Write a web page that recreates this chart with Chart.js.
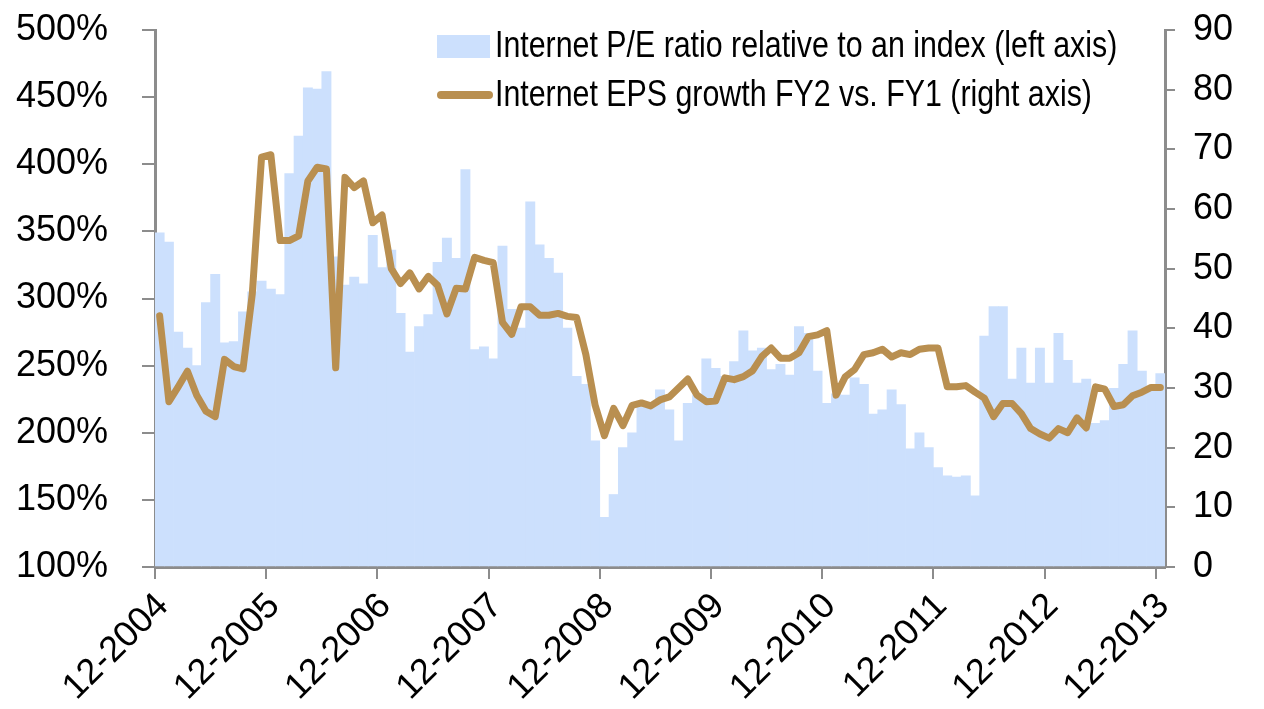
<!DOCTYPE html>
<html lang="en">
<head>
<meta charset="UTF-8">
<title>Internet P/E vs EPS growth</title>
<script src="https://cdn.jsdelivr.net/npm/chart.js@4.4.1/dist/chart.umd.min.js"></script>
<style>
  body { margin: 0; background: #fff; }
  #wrap { width: 1264px; height: 709px; }
</style>
</head>
<body>
<div id="wrap"><canvas id="chart" width="1264" height="709"></canvas></div>
<script>
// year labels on the x axis, one every 12 months starting Dec 2004
const tickLabels = ['12-2004', '12-2005', '12-2006', '12-2007', '12-2008',
                    '12-2009', '12-2010', '12-2011', '12-2012', '12-2013'];

// monthly values, Dec 2004 .. Dec 2013 (109 months)
const peRatio = [
  349, 342, 275, 263, 250, 297, 318, 267, 268, 290, 305, 313,
  307, 303, 393, 421, 457, 456, 469, 331, 310, 316, 311, 347,
  323, 336, 289, 260, 279, 288, 327, 345, 330, 396, 262, 264,
  255, 339, 292, 278, 372, 340, 330, 319, 278, 242, 236, 194,
  137, 154, 189, 200, 220, 221, 232, 217, 194, 222, 228, 255,
  248, 242, 253, 276, 261, 263, 247, 251, 243, 279, 274, 246,
  222, 229, 228, 241, 236, 214, 217, 232, 221, 188, 200, 189,
  174, 168, 167, 168, 153, 272, 294, 294, 240, 263, 237, 263,
  237, 274, 254, 237, 240, 207, 209, 233, 251, 276, 246, 232,
  244
];
const epsGrowth = [
  42.1, 27.7, 30.2, 32.8, 28.8, 26.1, 25.2, 34.8, 33.6, 33.2, 45.8, 68.7,
  69.1, 54.7, 54.7, 55.5, 64.7, 67.0, 66.7, 33.4, 65.3, 63.6, 64.7, 57.7,
  59.0, 50.0, 47.5, 49.3, 46.6, 48.7, 47.2, 42.4, 46.7, 46.6, 51.9, 51.4,
  51.0, 41.0, 39.0, 43.6, 43.6, 42.2, 42.2, 42.5, 42.0, 41.8, 35.6, 27.1,
  22.0, 26.6, 23.7, 27.1, 27.5, 27.0, 28.0, 28.5, 30.0, 31.5, 28.8, 27.7,
  27.8, 31.7, 31.4, 31.9, 32.9, 35.3, 36.7, 35.0, 35.0, 35.9, 38.6, 38.9,
  39.6, 28.8, 31.9, 33.1, 35.6, 35.9, 36.5, 35.2, 35.9, 35.6, 36.5, 36.7,
  36.7, 30.2, 30.2, 30.4, 29.3, 28.3, 25.2, 27.4, 27.4, 25.7, 23.2, 22.3,
  21.6, 23.2, 22.5, 25.0, 23.3, 30.2, 29.8, 26.9, 27.2, 28.7, 29.3, 30.1,
  30.1
];

const BAR_COLOR = '#cce0fd';
const LINE_COLOR = '#b98f50';
const AXIS_COLOR = '#8c8c8c';
const TICK_FONT = { family: "'Liberation Sans', Arial, sans-serif", size: 36 };

Chart.defaults.font.family = "'Liberation Sans', Arial, sans-serif";
Chart.defaults.color = '#000';

// legend drawn inside the plot, top right, two rows, narrow type
const insideLegend = {
  id: 'insideLegend',
  afterDraw(chart) {
    const ctx = chart.ctx;
    const bars = chart.data.datasets.find(d => d.type === 'bar');
    const line = chart.data.datasets.find(d => d.type === 'line');
    ctx.save();
    // use the narrow face if it is there, otherwise squeeze the regular one
    ctx.font = "37px 'Liberation Sans'";
    const wide = ctx.measureText(bars.label).width;
    ctx.font = "37px 'Liberation Sans Narrow', 'Liberation Sans'";
    const narrow = ctx.measureText(bars.label).width;
    const sx = narrow < wide * 0.9 ? 1 : 0.82;

    ctx.fillStyle = BAR_COLOR;
    ctx.fillRect(437, 35, 53, 23);
    ctx.strokeStyle = LINE_COLOR;
    ctx.lineWidth = 8;
    ctx.lineCap = 'round';
    ctx.beginPath();
    ctx.moveTo(441, 95);
    ctx.lineTo(489, 95);
    ctx.stroke();

    ctx.fillStyle = '#000';
    ctx.textBaseline = 'middle';
    [[bars.label, 47], [line.label, 96]].forEach(([txt, y]) => {
      ctx.save();
      ctx.translate(495, y);
      ctx.scale(sx, 1);
      ctx.fillText(txt, 0, 0);
      ctx.restore();
    });
    ctx.restore();
  }
};

// fixed axis sizes so the plot sits where the original one does
const fixWidth = w => s => { s.width = w; s.paddingTop = 0; s.paddingBottom = 0; };

new Chart(document.getElementById('chart'), {
  type: 'bar',
  data: {
    datasets: [{
      type: 'line',
      label: 'Internet EPS growth FY2 vs. FY1 (right axis)',
      data: epsGrowth.map((v, i) => ({ x: i + 0.5, y: v })),
      yAxisID: 'y1',
      borderColor: LINE_COLOR,
      borderWidth: 7,
      borderJoinStyle: 'round',
      borderCapStyle: 'round',
      pointRadius: 0,
      tension: 0,
      order: 0
    }, {
      type: 'bar',
      label: 'Internet P/E ratio relative to an index (left axis)',
      data: peRatio.map((v, i) => ({ x: i + 0.5, y: v })),
      yAxisID: 'y',
      backgroundColor: BAR_COLOR,
      borderWidth: 0,
      base: 100,
      barPercentage: 1,
      categoryPercentage: 1,
      order: 1
    }]
  },
  options: {
    responsive: false,
    animation: false,
    layout: { padding: { top: 30, left: 0, right: 0, bottom: 0 } },
    plugins: { legend: { display: false }, tooltip: { enabled: false } },
    scales: {
      x: {
        type: 'linear',
        min: 0,
        max: 109,
        offset: false,
        afterBuildTicks: s => { s.ticks = tickLabels.map((t, i) => ({ value: i * 12 })); },
        afterFit: s => { s.height = 142; s.paddingLeft = 0; s.paddingRight = 0; },
        ticks: {
          autoSkip: false,
          maxRotation: 45,
          minRotation: 45,
          padding: 6,
          labelOffset: 8,
          font: TICK_FONT,
          callback: v => tickLabels[Math.round(v / 12)] || ''
        },
        grid: { offset: false, drawOnChartArea: false, tickLength: 12, color: AXIS_COLOR, lineWidth: 2 },
        border: { color: AXIS_COLOR, width: 3 }
      },
      y: {
        position: 'left',
        min: 100,
        max: 500,
        afterFit: fixWidth(155),
        ticks: { stepSize: 50, padding: 34, font: TICK_FONT, callback: v => v + '%' },
        grid: { drawOnChartArea: false, tickLength: 13, color: AXIS_COLOR, lineWidth: 2 },
        border: { color: AXIS_COLOR, width: 3 }
      },
      y1: {
        position: 'right',
        min: 0,
        max: 90,
        afterFit: fixWidth(99),
        ticks: { stepSize: 10, padding: 18, font: TICK_FONT },
        grid: { drawOnChartArea: false, tickLength: 10, color: AXIS_COLOR, lineWidth: 2 },
        border: { color: AXIS_COLOR, width: 3 }
      }
    }
  },
  plugins: [insideLegend]
});
</script>
</body>
</html>
